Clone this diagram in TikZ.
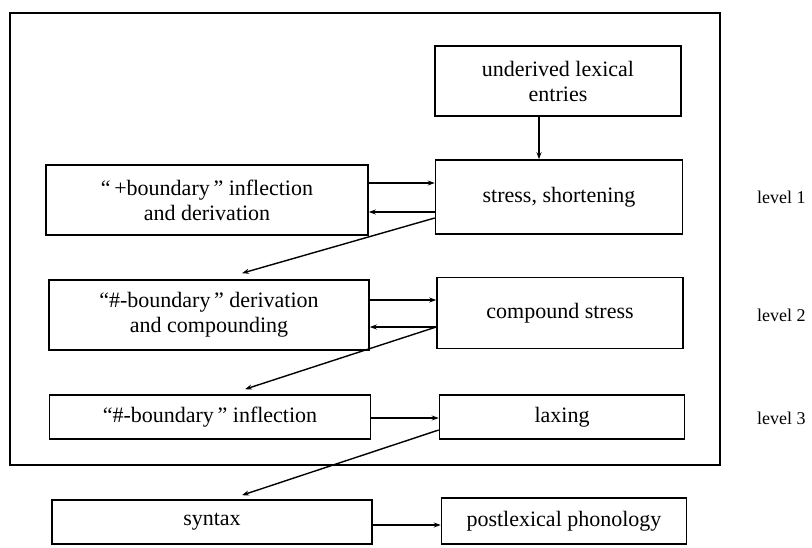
\documentclass[tikz,border=0pt]{standalone}
\usepackage{fontspec}
\setmainfont{Liberation Serif}
\usetikzlibrary{arrows.meta}
\begin{document}
\begin{tikzpicture}[x=1pt,y=-1pt,
  box/.style={draw, line width=1.6pt, inner sep=0pt, align=center,
    font=\fontsize{22}{25}\selectfont},
  lbl/.style={anchor=west, inner sep=0pt, font=\fontsize{18}{21}\selectfont},
  conn/.style={line width=1.4pt, -{Stealth[length=7pt,width=5pt]}},
  frame/.style={draw, line width=1.7pt}]
\useasboundingbox (0,0) rectangle (812,547);
\draw[frame] (10,13) rectangle (720,465);
% right column
\node[box, minimum width=246pt, minimum height=70pt] (und) at (558,81) {underived lexical\\entries};
\node[box, minimum width=247pt, minimum height=74pt] (stress) at (559,197) {stress, shortening};
\node[box, minimum width=246pt, minimum height=71pt] (comp) at (560,313) {compound stress};
\node[box, minimum width=245pt, minimum height=44pt] (lax) at (562,417) {laxing};
\node[box, minimum width=245pt, minimum height=46pt] (post) at (564,521) {postlexical phonology};
% left column
\node[box, minimum width=322pt, minimum height=70pt] (plus) at (207,200) {``\,+boundary\,'' inflection\\and derivation};
\node[box, minimum width=320pt, minimum height=70pt] (hder) at (209,315) {``\#-boundary\,'' derivation\\and compounding};
\node[box, minimum width=321pt, minimum height=44pt] (hinf) at (210,417) {``\#-boundary\,'' inflection};
\node[box, minimum width=320pt, minimum height=44pt] (syn) at (212,522) {syntax};
% level labels
\node[lbl] (l1) at (757,197) {level 1};
\node[lbl] (l2) at (757,315) {level 2};
\node[lbl] (l3) at (757,418) {level 3};
% connectors
\draw[conn] (und.south -| 539,0) -- (stress.north -| 539,0);
\draw[conn] (plus.east |- 0,183) -- (stress.west |- 0,183);
\draw[conn] (stress.west |- 0,212) -- (plus.east |- 0,212);
\draw[conn] (stress.west |- 0,218) -- ([xshift=33pt,yshift=6pt]hder.north);
\draw[conn] (hder.east |- 0,300) -- (comp.west |- 0,300);
\draw[conn] (comp.west |- 0,327) -- (hder.east |- 0,327);
\draw[conn] (comp.west |- 0,327) -- ([xshift=35pt,yshift=5pt]hinf.north);
\draw[conn] (hinf.east |- 0,418) -- (lax.west |- 0,418);
\draw[conn] (lax.west |- 0,430) -- ([xshift=30pt,yshift=4pt]syn.north);
\draw[conn] (syn.east |- 0,525) -- (post.west |- 0,525);
\end{tikzpicture}
\end{document}
